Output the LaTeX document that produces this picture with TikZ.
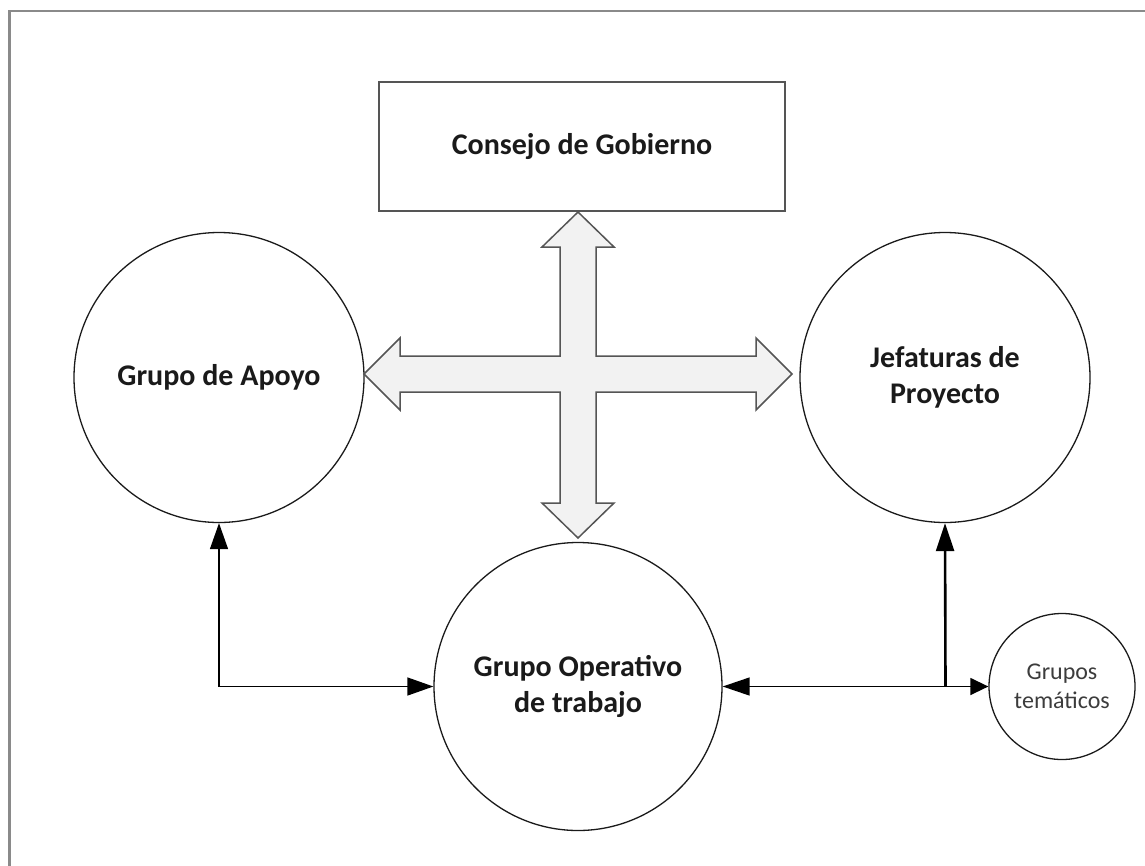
\documentclass[tikz,border=0pt]{standalone}
\usepackage{fontspec}
\setmainfont{Carlito}
\usetikzlibrary{arrows.meta}
\definecolor{framegray}{HTML}{8A8A8A}
\definecolor{shapegray}{HTML}{555555}
\definecolor{crossfill}{HTML}{F2F2F2}
\definecolor{inkblack}{HTML}{1A1A1A}
\tikzset{
  bigcircle/.style={circle,draw=inkblack,line width=1.3pt,minimum size=290pt,inner sep=0pt,align=center,
    font=\bfseries\fontsize{30}{36.6}\selectfont,text=inkblack},
  smallcircle/.style={circle,draw=inkblack,line width=1.3pt,minimum size=146pt,inner sep=0pt,align=center,
    font=\fontsize{24}{29}\selectfont,text=inkblack!85},
  govbox/.style={rectangle,draw=shapegray,line width=1.6pt,minimum width=406pt,minimum height=129pt,inner sep=0pt,
    font=\bfseries\fontsize{30}{36.6}\selectfont,text=inkblack},
  link/.style={draw=black,line width=1.4pt},
  crossshape/.style={draw=shapegray,line width=1.5pt,fill=crossfill,line join=miter},
}
\begin{document}
\begin{tikzpicture}[x=1pt,y=-1pt]
\useasboundingbox (0,0) rectangle (1145,865);
% outer frame (cropped at right and bottom)
\draw[framegray,line width=2.5pt] (1160,11) -- (9.5,11) -- (9.5,880);

% nodes
\node[govbox] (cg) at (582,146.5) {Consejo de Gobierno};
\node[bigcircle] (ap) at (219,377.5) {Grupo de Apoyo};
\node[bigcircle] (jp) at (945,377.5) {Jefaturas de\\Proyecto};
\node[bigcircle,minimum size=288pt] (op) at (578,686.5) {Grupo Operativo\\de trabajo};
\node[smallcircle] (gt) at (1062,686.5) {Grupos\\temáticos};

% four-way block arrow
\coordinate (cx) at (578,374);
\draw[crossshape]
  (578,212) -- (614,247) -- (596,247) -- (596,356) -- (756,356) -- (756,338) -- (792,374)
  -- (756,410) -- (756,392) -- (596,392) -- (596,503) -- (614,503) -- (578,538)
  -- (542,503) -- (560,503) -- (560,392) -- (400,392) -- (400,410) -- (364,374)
  -- (400,338) -- (400,356) -- (560,356) -- (560,247) -- (542,247) -- cycle;

% connectors
\draw[link,{Triangle[length=26pt,width=18pt]}-{Triangle[length=26pt,width=18pt]}]
  (ap.south) |- (op.west);
\coordinate (jn) at (945.5,686.5);
\draw[link,{Triangle[length=27pt,width=18pt]}-{Triangle[length=18pt,width=17pt]}]
  (op.east) -- (gt.west);
\draw[link,line width=2.6pt,-{Triangle[length=28pt,width=18pt]}] (jn) -- (jp.south);
\end{tikzpicture}
\end{document}
